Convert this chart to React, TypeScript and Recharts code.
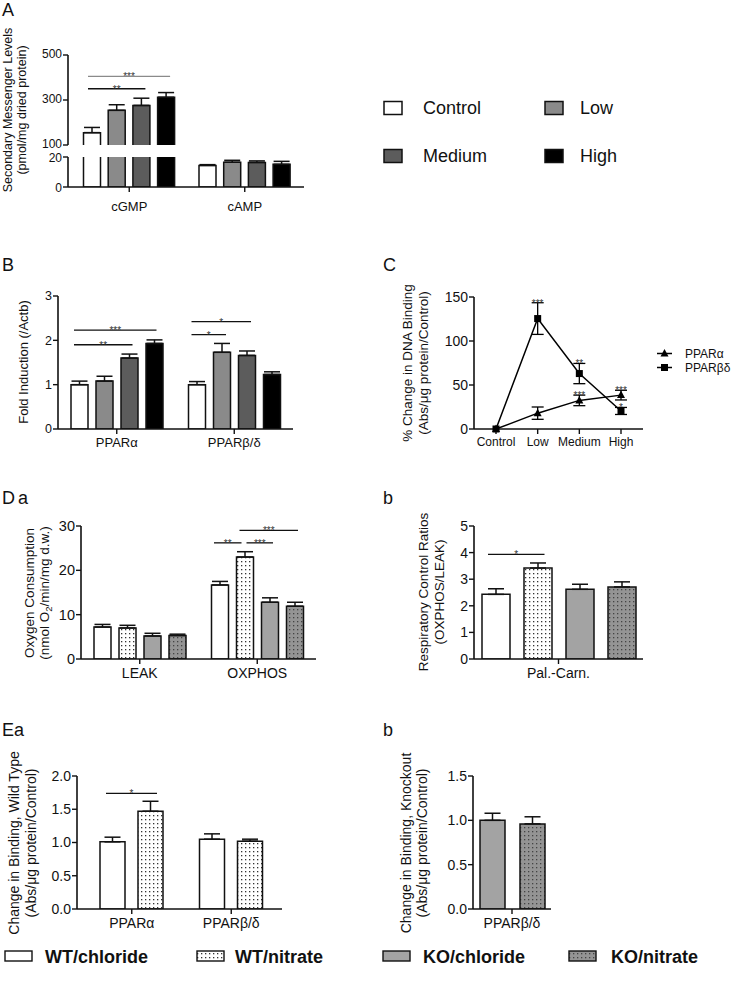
import React from 'react';
import {
  BarChart, Bar, LineChart, Line, XAxis, YAxis, ErrorBar,
  ReferenceLine, ReferenceDot,
} from 'recharts';

const FONT = '"Liberation Sans", Arial, Helvetica, sans-serif';
const INK = '#111';

// ---- A: secondary messengers ----
const messengerCats = ['cGMP', 'cAMP'];
const doseNames = ['Control', 'Low', 'Medium', 'High'];
const doseFills = ['#ffffff', '#8a8a8a', '#5c5c5c', '#000000'];
const msgControl = [155, 14.4];
const msgLow = [254, 16.5];
const msgMedium = [276, 16.4];
const msgHigh = [312, 15.1];
const msgControlErr = [23, 0.5];
const msgLowErr = [25, 1.3];
const msgMediumErr = [32, 1.0];
const msgHighErr = [21, 2.0];

// ---- B: fold induction ----
const foldCats = ['PPARα', 'PPARβ/δ'];
const foldControl = [1.0, 1.0];
const foldLow = [1.08, 1.73];
const foldMedium = [1.6, 1.66];
const foldHigh = [1.93, 1.23];
const foldControlErr = [0.08, 0.07];
const foldLowErr = [0.11, 0.2];
const foldMediumErr = [0.09, 0.1];
const foldHighErr = [0.08, 0.06];

// ---- C: DNA binding ----
const dnaDoses = ['Control', 'Low', 'Medium', 'High'];
const dnaAlpha = [0, 18, 32.5, 38.5];
const dnaAlphaErr = [0, 7, 6, 5.5];
const dnaBeta = [0, 125.5, 63, 20.5];
const dnaBetaErr = [0, 18, 11.5, 4];
const dnaAlphaStars = ['', '', '***', '***'];
const dnaBetaStars = ['', '***', '**', '*'];

// ---- D / E: WT and KO groups ----
const groupNames = ['WT/chloride', 'WT/nitrate', 'KO/chloride', 'KO/nitrate'];
const groupFills = ['#ffffff', 'url(#dotsWhite)', '#a3a3a3', 'url(#dotsGray)'];

const o2Cats = ['LEAK', 'OXPHOS'];
const o2WtCl = [7.2, 16.7];
const o2WtNo3 = [7.0, 23.0];
const o2KoCl = [5.2, 12.8];
const o2KoNo3 = [5.3, 11.9];
const o2WtClErr = [0.6, 0.8];
const o2WtNo3Err = [0.6, 1.2];
const o2KoClErr = [0.6, 1.0];
const o2KoNo3Err = [0.3, 0.9];

const rcrCats = ['Pal.-Carn.'];
const rcrWtCl = [2.43];
const rcrWtNo3 = [3.42];
const rcrKoCl = [2.62];
const rcrKoNo3 = [2.71];
const rcrWtClErr = [0.21];
const rcrWtNo3Err = [0.19];
const rcrKoClErr = [0.19];
const rcrKoNo3Err = [0.19];

const wtCats = ['PPARα', 'PPARβ/δ'];
const wtCl = [1.01, 1.05];
const wtNo3 = [1.47, 1.02];
const wtClErr = [0.07, 0.08];
const wtNo3Err = [0.15, 0.03];

const koCats = ['PPARβ/δ'];
const koCl = [1.0];
const koNo3 = [0.96];
const koClErr = [0.08];
const koNo3Err = [0.08];

// significance brackets: category, first bar, last bar, y value, stars
const sigA = [
  { cat: 0, from: 0, to: 3, y: 405, text: '***', color: '#8a8a8a' },
  { cat: 0, from: 0, to: 2, y: 350, text: '**' },
];
const sigB = [
  { cat: 0, from: 0, to: 3, y: 2.23, text: '***', pad: [-4.5, 3] },
  { cat: 0, from: 0, to: 2, y: 1.9, text: '**', pad: [-4.5, 4] },
  { cat: 1, from: 0, to: 2, y: 2.42, text: '*', pad: [-4.5, 5] },
  { cat: 1, from: 0, to: 1, y: 2.13, text: '*', pad: [-4.5, 5] },
];
const sigDa = [
  { cat: 1, from: 0, to: 1, y: 26.2, text: '**', pad: [-5, -2.5] },
  { cat: 1, from: 1, to: 2, y: 26.2, text: '***', pad: [2.5, 4] },
  { cat: 1, from: 1, to: 3, y: 29, text: '***', pad: [-4.5, 4] },
];
const sigDb = [{ cat: 0, from: 0, to: 1, y: 3.93, text: '*', pad: [-7, 7.5] }];
const sigEa = [{ cat: 0, from: 0, to: 1, y: 1.74, text: '*', pad: [-6.5, 6.5] }];

type Series = { key: string; fill: string; values: number[]; errs: number[] };
type Sig = { cat: number; from: number; to: number; y: number; text: string; pad?: number[]; color?: string };
type Box = { x0: number; x1: number; y0: number; y1: number };

const mkSeries = (fills: string[], vals: number[][], errs: number[][]): Series[] =>
  fills.map((f, i) => ({ key: 's' + i, fill: f, values: vals[i], errs: errs[i] }));

const axisLine = { stroke: INK, strokeWidth: 1.6 };
const tickLine = { stroke: INK, strokeWidth: 1.4 };

function StarLabel(props: any) {
  const vb = props.viewBox || {};
  const x = (vb.x ?? 0) + (vb.width ?? 0) / 2;
  const y = (vb.y ?? 0) + (vb.height ?? 0) / 2;
  return (
    <text x={x} y={y + 4} textAnchor="middle" fontSize={10} fill="#333">{props.text}</text>
  );
}

interface BarPanelProps {
  box: Box; yw: number; xh?: number; cats: string[]; series: Series[];
  domain: [number, number]; ticks: number[]; fmt?: (v: number) => string;
  barSize: number; barGap: number; sigs?: Sig[];
  tickFont: number; tickDy?: number; catFont: number; catMargin: number;
  xPad?: { left: number; right: number }; hideX?: boolean; rangeFrom?: number;
}

function BarPanel(p: BarPanelProps) {
  const pad = 10;
  const xh = p.hideX ? 0 : (p.xh ?? 30);
  const xPad = p.xPad ?? { left: 0, right: 0 };
  const width = p.box.x1 - p.box.x0 + p.yw + pad;
  const height = p.box.y1 - p.box.y0 + pad + (xh || pad);
  const plotW = p.box.x1 - p.box.x0;

  const rows = p.cats.map((c, i) => {
    const r: Record<string, any> = { cat: c };
    p.series.forEach((s) => {
      const v = s.values[i];
      r[s.key] = p.rangeFrom != null ? [p.rangeFrom, v] : v;
      if (v >= p.domain[0] && v <= p.domain[1]) r[s.key + 'Err'] = [0, s.errs[i]];
    });
    return r;
  });

  // bar layout used by recharts with a fixed barSize: group centred in each band
  const band = (plotW - xPad.left - xPad.right) / p.cats.length;
  const n = p.series.length;
  const start = Math.floor((band - (n * p.barSize + (n - 1) * p.barGap)) / 2);
  const barOff = (cat: number, bar: number, dx: number) =>
    cat * band + start + bar * (p.barSize + p.barGap) + p.barSize / 2 + dx;

  const sigShape = (g: Sig) => (sp: any) => {
    const left = Math.min(sp.x1, sp.x2);
    const span = Math.abs(sp.x2 - sp.x1);
    const base = left + (Math.abs(span - plotW) < 0.6 ? xPad.left : 0);
    const pd = g.pad ?? [-4, 4];
    const a = base + barOff(g.cat, g.from, pd[0]);
    const b = base + barOff(g.cat, g.to, pd[1]);
    const y = sp.y1;
    return (
      <g>
        <line x1={a} x2={b} y1={y} y2={y} stroke={g.color ?? INK} strokeWidth={1.3} />
        <text x={(a + b) / 2} y={y + 4} textAnchor="middle" fontSize={10} fill="#333">{g.text}</text>
      </g>
    );
  };

  return (
    <div style={{ position: 'absolute', left: p.box.x0 - p.yw, top: p.box.y0 - pad }}>
      <BarChart
        width={width}
        height={height}
        data={rows}
        margin={{ top: pad, right: pad, bottom: xh ? 0 : pad, left: 0 }}
        barSize={p.barSize}
        barGap={p.barGap}
      >
        <XAxis
          dataKey="cat"
          hide={p.hideX}
          height={xh || 30}
          padding={xPad}
          interval={0}
          tickSize={5}
          tickMargin={p.catMargin}
          axisLine={axisLine}
          tickLine={tickLine}
          tick={{ fontSize: p.catFont, fill: INK }}
        />
        <YAxis
          width={p.yw}
          domain={p.domain}
          ticks={p.ticks}
          interval={0}
          allowDataOverflow
          tickFormatter={p.fmt}
          tickSize={5}
          tickMargin={1}
          axisLine={axisLine}
          tickLine={tickLine}
          tick={{ fontSize: p.tickFont, fill: INK, dy: p.tickDy ?? 0 }}
        />
        {p.series.map((s) => (
          <Bar key={s.key} dataKey={s.key} fill={s.fill} stroke={INK} strokeWidth={1.5} isAnimationActive={false}>
            <ErrorBar dataKey={s.key + 'Err'} width={8} stroke={INK} strokeWidth={1.5} direction="y" />
          </Bar>
        ))}
        {(p.sigs ?? []).map((g, i) => (
          <ReferenceLine key={'sig' + i} y={g.y} ifOverflow="visible" shape={sigShape(g)} />
        ))}
      </BarChart>
    </div>
  );
}

const triangle = (props: any) => {
  const { cx, cy, index } = props;
  return <path key={'t' + index} d={`M${cx},${cy - 4.5}L${cx + 4},${cy + 3}L${cx - 4},${cy + 3}Z`} fill="#000" />;
};
const square = (props: any) => {
  const { cx, cy, index } = props;
  return <rect key={'q' + index} x={cx - 3.5} y={cy - 3.5} width={7} height={7} fill="#000" />;
};

function DnaPanel() {
  const box = { x0: 474, x1: 643, y0: 297, y1: 429 };
  const yw = 50;
  const pad = 10;
  const xh = 30;
  const rows = dnaDoses.map((d, i) => ({
    dose: d, alpha: dnaAlpha[i], alphaErr: dnaAlphaErr[i], beta: dnaBeta[i], betaErr: dnaBetaErr[i],
  }));
  return (
    <div style={{ position: 'absolute', left: box.x0 - yw, top: box.y0 - pad }}>
      <LineChart
        width={box.x1 - box.x0 + yw + pad}
        height={box.y1 - box.y0 + pad + xh}
        data={rows}
        margin={{ top: pad, right: pad, bottom: 0, left: 0 }}
      >
        <XAxis
          dataKey="dose"
          height={xh}
          padding={{ left: 22, right: 22 }}
          interval={0}
          tickSize={5}
          tickMargin={3}
          axisLine={axisLine}
          tickLine={tickLine}
          tick={{ fontSize: 12, fill: INK }}
        />
        <YAxis
          width={yw}
          domain={[0, 150]}
          ticks={[0, 50, 100, 150]}
          interval={0}
          tickSize={5}
          tickMargin={1}
          axisLine={axisLine}
          tickLine={tickLine}
          tick={{ fontSize: 14, fill: INK }}
        />
        <Line dataKey="beta" stroke="#000" strokeWidth={1.5} dot={square} activeDot={false} isAnimationActive={false}>
          <ErrorBar dataKey="betaErr" width={6} stroke="#000" strokeWidth={1.3} direction="y" />
        </Line>
        <Line dataKey="alpha" stroke="#000" strokeWidth={1.5} dot={triangle} activeDot={false} isAnimationActive={false}>
          <ErrorBar dataKey="alphaErr" width={6} stroke="#000" strokeWidth={1.3} direction="y" />
        </Line>
        {dnaDoses.map((d, i) => dnaBetaStars[i] ? (
          <ReferenceDot key={'bs' + i} x={d} y={dnaBeta[i] + dnaBetaErr[i]} r={1} fill="none" stroke="none"
            label={<StarLabel text={dnaBetaStars[i]} />} />
        ) : null)}
        {dnaDoses.map((d, i) => dnaAlphaStars[i] ? (
          <ReferenceDot key={'as' + i} x={d} y={dnaAlpha[i] + dnaAlphaErr[i]} r={1} fill="none" stroke="none"
            label={<StarLabel text={dnaAlphaStars[i]} />} />
        ) : null)}
      </LineChart>
    </div>
  );
}

function VTitle({ x, cy, size, gap, children }: { x: number; cy: number; size: number; gap: number; children: React.ReactNode[] }) {
  return (
    <text transform={`translate(${x},${cy}) rotate(-90)`} textAnchor="middle" fontSize={size} fill={INK}>
      {children.map((c, i) => <tspan key={i} x={0} y={i * gap}>{c}</tspan>)}
    </text>
  );
}

function Overlay() {
  const legendA = doseNames.map((nm, i) => ({
    nm, fill: doseFills[i], bx: i % 2 ? 545 : 384, tx: i % 2 ? 580 : 423, cy: i < 2 ? 108 : 156,
  }));
  const legendBottom = groupNames.map((nm, i) => ({
    nm, fill: groupFills[i], bx: [5, 197, 383, 569][i], tx: [45, 235, 423, 611][i],
  }));
  const letter = { fontSize: 18, fill: INK };
  return (
    <svg width={738} height={989} style={{ position: 'absolute', left: 0, top: 0 }}>
      <defs>
        <pattern id="dotsWhite" width="4" height="4" patternUnits="userSpaceOnUse">
          <rect width="4" height="4" fill="#fff" />
          <rect x="1" y="1" width="1.3" height="1.3" fill="#333" />
        </pattern>
        <pattern id="dotsGray" width="4" height="4" patternUnits="userSpaceOnUse">
          <rect width="4" height="4" fill="#949494" />
          <rect x="1" y="1" width="1.3" height="1.3" fill="#444" />
        </pattern>
      </defs>

      <text x={2} y={15.5} {...letter}>A</text>
      <text x={2} y={271} {...letter}>B</text>
      <text x={383} y={271} {...letter}>C</text>
      <text x={2} y={504} {...letter} letterSpacing={3}>Da</text>
      <text x={383} y={504} {...letter}>b</text>
      <text x={2} y={736} {...letter}>Ea</text>
      <text x={383} y={736} {...letter}>b</text>

      <VTitle x={12} cy={110} size={12.5} gap={14}>
        {['Secondary Messenger Levels', '(pmol/mg dried protein)']}
      </VTitle>
      <VTitle x={28} cy={362} size={13} gap={14}>{['Fold Induction (/Actb)']}</VTitle>
      <VTitle x={412} cy={363} size={13.5} gap={16}>
        {['% Change in DNA Binding', '(Abs/μg protein/Control)']}
      </VTitle>
      <VTitle x={34} cy={593} size={13.5} gap={15}>
        {['Oxygen  Consumption', (
          <>(nmol O<tspan dy={3} fontSize={9.5}>2</tspan><tspan dy={-3}>/min/mg d.w.)</tspan></>
        )]}
      </VTitle>
      <VTitle x={428} cy={592} size={13.5} gap={16}>
        {['Respiratory Control  Ratios', '(OXPHOS/LEAK)']}
      </VTitle>
      <VTitle x={19} cy={843} size={14} gap={16.5}>
        {['Change in Binding, Wild Type', '(Abs/μg protein/Control)']}
      </VTitle>
      <VTitle x={411} cy={843} size={14} gap={16}>
        {['Change in Binding, Knockout', '(Abs/μg protein/Control)']}
      </VTitle>

      {legendA.map((l) => (
        <g key={l.nm}>
          <rect x={l.bx} y={l.cy - 6.5} width={18} height={13} fill={l.fill} stroke={INK} strokeWidth={1.5} />
          <text x={l.tx} y={l.cy + 6.3} fontSize={18} fill={INK}>{l.nm}</text>
        </g>
      ))}

      <g>
        <line x1={657} x2={672} y1={353.5} y2={353.5} stroke="#000" strokeWidth={1.5} />
        <path d="M664.5,349L668.5,356.5L660.5,356.5Z" fill="#000" />
        <text x={685} y={357.8} fontSize={12} fill={INK}>PPARα</text>
        <line x1={657} x2={672} y1={367.5} y2={367.5} stroke="#000" strokeWidth={1.5} />
        <rect x={661} y={364} width={7} height={7} fill="#000" />
        <text x={685} y={371.8} fontSize={12} fill={INK}>PPARβδ</text>
      </g>

      {legendBottom.map((l) => (
        <g key={l.nm}>
          <rect x={l.bx} y={951} width={27} height={10} fill={l.fill} stroke={INK} strokeWidth={1.4} />
          <text x={l.tx} y={963} fontSize={18} fontWeight="bold" fill={INK}>{l.nm}</text>
        </g>
      ))}
    </svg>
  );
}

const serA = mkSeries(doseFills, [msgControl, msgLow, msgMedium, msgHigh], [msgControlErr, msgLowErr, msgMediumErr, msgHighErr]);
const serB = mkSeries(doseFills, [foldControl, foldLow, foldMedium, foldHigh], [foldControlErr, foldLowErr, foldMediumErr, foldHighErr]);
const serDa = mkSeries(groupFills, [o2WtCl, o2WtNo3, o2KoCl, o2KoNo3], [o2WtClErr, o2WtNo3Err, o2KoClErr, o2KoNo3Err]);
const serDb = mkSeries(groupFills, [rcrWtCl, rcrWtNo3, rcrKoCl, rcrKoNo3], [rcrWtClErr, rcrWtNo3Err, rcrKoClErr, rcrKoNo3Err]);
const serEa = mkSeries(groupFills.slice(0, 2), [wtCl, wtNo3], [wtClErr, wtNo3Err]);
const serEb = mkSeries(groupFills.slice(2), [koCl, koNo3], [koClErr, koNo3Err]);

const oneDec = (v: number) => v.toFixed(1);

export default function App() {
  return (
    <div style={{ position: 'absolute', left: 0, top: 0, width: 738, height: 989, background: '#fff', fontFamily: FONT, overflow: 'hidden' }}>
      <Overlay />
      {/* A: broken axis drawn as two stacked charts */}
      <BarPanel box={{ x0: 68, x1: 304, y0: 55, y1: 145 }} yw={68} cats={messengerCats} series={serA}
        domain={[100, 500]} ticks={[100, 300, 500]} barSize={17} barGap={7.7} sigs={sigA} rangeFrom={0}
        tickFont={12} tickDy={-1.5} catFont={13} catMargin={10} xPad={{ left: 3.5, right: 1.5 }} hideX />
      <BarPanel box={{ x0: 68, x1: 304, y0: 157, y1: 187 }} yw={68} xh={32} cats={messengerCats} series={serA}
        domain={[0, 20]} ticks={[0, 20]} barSize={17} barGap={7.7}
        tickFont={12} tickDy={1} catFont={13} catMargin={10} xPad={{ left: 3.5, right: 1.5 }} />
      <BarPanel box={{ x0: 58, x1: 293, y0: 296, y1: 429 }} yw={58} cats={foldCats} series={serB}
        domain={[0, 3]} ticks={[0, 1, 2, 3]} barSize={17} barGap={8} sigs={sigB}
        tickFont={12.5} catFont={13} catMargin={4} />
      <DnaPanel />
      <BarPanel box={{ x0: 81, x1: 316, y0: 526, y1: 659 }} yw={81} cats={o2Cats} series={serDa}
        domain={[0, 30]} ticks={[0, 10, 20, 30]} barSize={17} barGap={8} sigs={sigDa}
        tickFont={14.5} catFont={14} catMargin={4} />
      <BarPanel box={{ x0: 474, x1: 643, y0: 526, y1: 659 }} yw={50} cats={rcrCats} series={serDb}
        domain={[0, 5]} ticks={[0, 1, 2, 3, 4, 5]} barSize={28} barGap={14} sigs={sigDb}
        tickFont={14} catFont={14} catMargin={4} />
      <BarPanel box={{ x0: 77, x1: 282, y0: 776, y1: 909 }} yw={77} cats={wtCats} series={serEa}
        domain={[0, 2]} ticks={[0, 0.5, 1, 1.5, 2]} fmt={oneDec} barSize={25} barGap={13} sigs={sigEa}
        tickFont={14} catFont={14} catMargin={4} xPad={{ left: 5, right: 1 }} />
      <BarPanel box={{ x0: 473, x1: 551, y0: 776, y1: 909 }} yw={50} cats={koCats} series={serEb}
        domain={[0, 1.5]} ticks={[0, 0.5, 1, 1.5]} fmt={oneDec} barSize={25} barGap={15}
        tickFont={14} catFont={14} catMargin={4} />
    </div>
  );
}
